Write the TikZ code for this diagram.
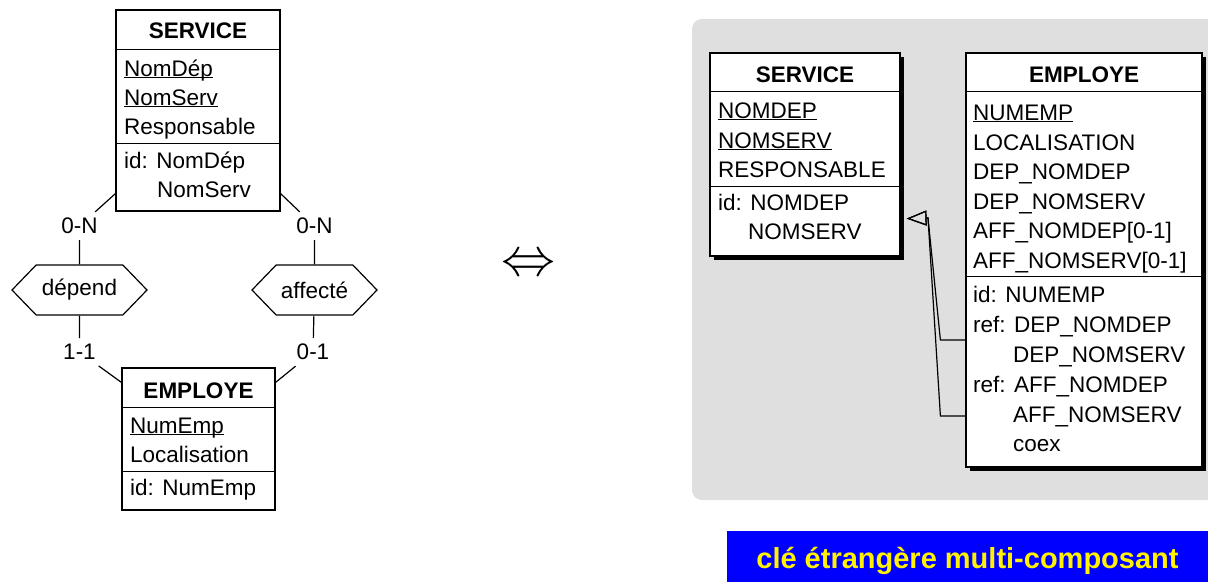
\documentclass[tikz,border=0pt]{standalone}
\usepackage{fontspec}
\setmainfont{Liberation Sans}
\usepackage{graphicx}
\usetikzlibrary{arrows.meta,shapes.symbols,shadows}
\newcommand{\erfont}{\fontsize{22.5}{27}\selectfont}
\newcommand{\ukey}[1]{\underline{\smash{#1}}}
\definecolor{panel}{RGB}{223,223,223}
\tikzset{
  box/.style={draw, line width=1.2pt, fill=white, inner sep=0pt},
  shbox/.style={box, drop shadow={shadow xshift=4pt, shadow yshift=-4pt, fill=black, opacity=1}},
  title/.style={anchor=base, inner sep=0pt, font=\erfont\bfseries},
  attr/.style={anchor=base west, inner sep=0pt, font=\erfont},
  card/.style={inner xsep=6pt, inner ysep=6pt, font=\erfont},
  rel/.style={draw, line width=1.2pt, signal, signal to=west and east,
    signal pointer angle=92, inner sep=0pt, font=\erfont},
  link/.style={line width=1.2pt},
  fk/.style={link, -{Triangle[open, length=20pt, width=15pt]}},
}
\begin{document}
\begin{tikzpicture}[x=1pt,y=-1pt]
\useasboundingbox (0,0) rectangle (1208,582);
% conceptual schema
\node[box, minimum width=164pt, minimum height=201pt] (svc) at (198,110.5) {};
\draw[link] ([yshift=-40pt]svc.north west) -- ([yshift=-40pt]svc.north east);
\draw[link] ([yshift=-134pt]svc.north west) -- ([yshift=-134pt]svc.north east);
\node[title] (svct) at (198,38) {SERVICE};
\foreach \t/\y [count=\i] in {\ukey{NomDép}/76, \ukey{NomServ}/105, Responsable/134, id: NomDép/168}
  \node[attr] (sa\i) at (124,\y) {\t};
\node[attr] (sa5) at (157,197) {NomServ};

\node[box, minimum width=153pt, minimum height=142pt] (emp) at (198.5,439) {};
\draw[link] ([yshift=-40pt]emp.north west) -- ([yshift=-40pt]emp.north east);
\draw[link] ([yshift=-104pt]emp.north west) -- ([yshift=-104pt]emp.north east);
\node[title] (empt) at (198.5,398) {EMPLOYE};
\foreach \t/\y [count=\i] in {\ukey{NumEmp}/433, Localisation/462, id: NumEmp/495}
  \node[attr] (ea\i) at (130,\y) {\t};

\node[rel, minimum width=135pt, minimum height=50pt] (dep) at (79.5,290) {dépend};
\node[rel, minimum width=125pt, minimum height=50pt] (aff) at (314.5,290) {affecté};

\node[card] (c1) at (79.5,226) {0-N};
\node[card] (c2) at (79.5,352) {1-1};
\node[card] (c3) at (314.5,226) {0-N};
\node[card] (c4) at (313,352) {0-1};

\draw[link] ([yshift=18pt]svc.south west) -- (c1);
\draw[link] (c1) -- (dep);
\draw[link] (dep) -- (c2);
\draw[link] (c2) -- ([yshift=-15pt]emp.north west);
\draw[link] ([yshift=18pt]svc.south east) -- (c3);
\draw[link] (c3) -- (aff);
\draw[link] (aff) -- (c4);
\draw[link] (c4) -- ([yshift=-15pt]emp.north east);

\node (eqv) at (528,266) {\fontsize{10}{12}\selectfont\scalebox{5.4}{$\Leftrightarrow$}};

% relational schema
\fill[panel, rounded corners=10pt] (692,19) rectangle (1240,500);

\node[shbox, minimum width=190pt, minimum height=203pt] (svc2) at (805,154.5) {};
\draw[link] ([yshift=-39pt]svc2.north west) -- ([yshift=-39pt]svc2.north east);
\draw[link] ([yshift=-134pt]svc2.north west) -- ([yshift=-134pt]svc2.north east);
\node[title] (svc2t) at (805,82) {SERVICE};
\foreach \t/\y [count=\i] in {\ukey{NOMDEP}/118, \ukey{NOMSERV}/148, RESPONSABLE/177, id: NOMDEP/210}
  \node[attr] (ra\i) at (718,\y) {\t};
\node[attr] (ra5) at (748,239) {NOMSERV};

\node[shbox, minimum width=236pt, minimum height=414pt] (emp2) at (1084,260) {};
\draw[link] ([yshift=-39pt]emp2.north west) -- ([yshift=-39pt]emp2.north east);
\draw[link] ([yshift=-224pt]emp2.north west) -- ([yshift=-224pt]emp2.north east);
\node[title] (emp2t) at (1084,82) {EMPLOYE};
\foreach \t/\y [count=\i] in {\ukey{NUMEMP}/120, LOCALISATION/150, DEP\_NOMDEP/179,
    DEP\_NOMSERV/209, AFF\_NOMDEP[0-1]/238, AFF\_NOMSERV[0-1]/268,
    id: NUMEMP/302, ref: DEP\_NOMDEP/332, ref: AFF\_NOMDEP/392}
  \node[attr] (fa\i) at (973,\y) {\t};
\foreach \t/\y [count=\i] in {DEP\_NOMSERV/362, AFF\_NOMSERV/422, coex/451}
  \node[attr] (fb\i) at (1013,\y) {\t};

\coordinate (fork) at (928,218);
\coordinate (tip) at ([xshift=6pt,yshift=38pt]svc2.south east);
\draw[fk] ([yshift=-80pt]emp2.west) -- ++(-25,0) -- (fork) -- (tip);
\draw[fk] ([yshift=-156pt]emp2.west) -- ++(-25,0) -- (fork) -- (tip);

\node[fill=blue, text=yellow, minimum width=481pt, minimum height=51pt, inner sep=0pt,
  text height=25pt, text depth=2pt, font=\fontsize{29}{34}\selectfont\bfseries]
  (tag) at (967.5,556.5) {clé étrangère multi-composant};
\end{tikzpicture}
\end{document}
